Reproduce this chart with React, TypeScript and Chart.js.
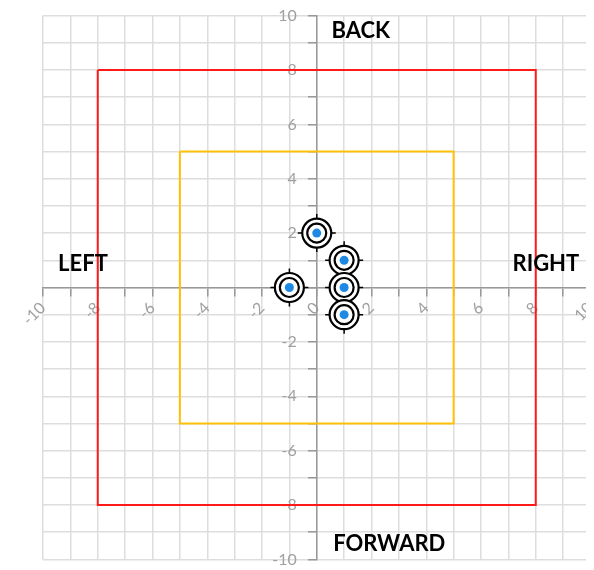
import React, { useEffect, useRef } from "react";
import { Chart, registerables } from "chart.js";

Chart.register(...registerables);

const axisMin = -10;
const axisMax = 10;
const outerSquare = [
  { x: -8, y: 8 },
  { x: 8, y: 8 },
  { x: 8, y: -8 },
  { x: -8, y: -8 },
  { x: -8, y: 8 },
];
const innerSquare = [
  { x: -5, y: 5 },
  { x: 5, y: 5 },
  { x: 5, y: -5 },
  { x: -5, y: -5 },
  { x: -5, y: 5 },
];
const hits = [
  { x: 0, y: 2 },
  { x: -1, y: 0 },
  { x: 1, y: 1 },
  { x: 1, y: 0 },
  { x: 1, y: -1 },
];
const directionLabels = [
  { text: "BACK", x: 1.61, y: 9.45 },
  { text: "FORWARD", x: 2.65, y: -9.42 },
  { text: "LEFT", x: -8.54, y: 0.88 },
  { text: "RIGHT", x: 8.37, y: 0.88 },
];

const labelPlugin = {
  id: "dirLabels",
  afterDatasetsDraw(chart: any) {
    const { ctx, scales } = chart;
    ctx.save();
    ctx.font = "bold 22px Lato, 'Open Sans', sans-serif";
    ctx.fillStyle = "#000";
    ctx.textBaseline = "middle";
    ctx.textAlign = "center";
    directionLabels.forEach((l) => {
      ctx.fillText(l.text, scales.x.getPixelForValue(l.x), scales.y.getPixelForValue(l.y));
    });
    ctx.restore();
  },
};

export default function App() {
  const ref = useRef<HTMLCanvasElement>(null);
  useEffect(() => {
    document.body.style.overflow = "hidden";
    const tickCb = (v: any) => (Number(v) % 2 === 0 ? String(v) : "");
    const chart = new Chart(ref.current!, {
      type: "scatter",
      data: {
        datasets: [
          {
            data: hits,
            pointStyle: "circle",
            pointRadius: 4.5,
            pointBackgroundColor: "#1E88E5",
            pointBorderColor: "#1E88E5",
            pointBorderWidth: 0,
            showLine: false,
          },
          {
            data: hits,
            pointStyle: "circle",
            pointRadius: 9.5,
            pointBackgroundColor: "#fff",
            pointBorderColor: "#000",
            pointBorderWidth: 2.2,
            showLine: false,
          },
          {
            data: hits,
            pointStyle: "circle",
            pointRadius: 14.5,
            pointBackgroundColor: "#fff",
            pointBorderColor: "#000",
            pointBorderWidth: 2.2,
            showLine: false,
          },
          {
            data: hits,
            pointStyle: "cross",
            pointRadius: 19,
            pointBorderColor: "#000",
            pointBorderWidth: 1.5,
            showLine: false,
          },
          {
            data: innerSquare,
            showLine: true,
            borderColor: "#FFC107",
            borderWidth: 2,
            pointRadius: 0,
          },
          {
            data: outerSquare,
            showLine: true,
            borderColor: "#FF1A1A",
            borderWidth: 2,
            pointRadius: 0,
          },
        ],
      },
      options: {
        animation: false,
        responsive: true,
        maintainAspectRatio: false,
        plugins: { legend: { display: false }, tooltip: { enabled: false } },
        layout: { padding: { top: 7, right: 4, bottom: 3, left: 35 } },
        scales: {
          x: {
            type: "linear",
            position: "center",
            min: axisMin,
            max: axisMax,
            grid: { color: "#ddd", tickColor: "#999", lineWidth: 1.5 },
            border: { color: "#999", width: 1.5 },
            ticks: {
              stepSize: 1,
              callback: tickCb,
              minRotation: 45,
              maxRotation: 45,
              autoSkip: false,
              color: "#a0a0a0",
              font: { size: 16, family: "Lato, sans-serif" },
            },
          },
          y: {
            type: "linear",
            position: "center",
            min: axisMin,
            max: axisMax,
            grid: { color: "#ddd", tickColor: "#999", lineWidth: 1.5 },
            border: { color: "#999", width: 1.5 },
            ticks: {
              stepSize: 1,
              callback: tickCb,
              autoSkip: false,
              padding: 12,
              color: "#a0a0a0",
              font: { size: 16, family: "Lato, sans-serif" },
            },
          },
        },
      },
      plugins: [labelPlugin],
    });
    return () => chart.destroy();
  }, []);
  return (
    <div style={{ width: 603, height: 587, marginTop: -14, position: "relative" }}>
      <canvas ref={ref} />
    </div>
  );
}
